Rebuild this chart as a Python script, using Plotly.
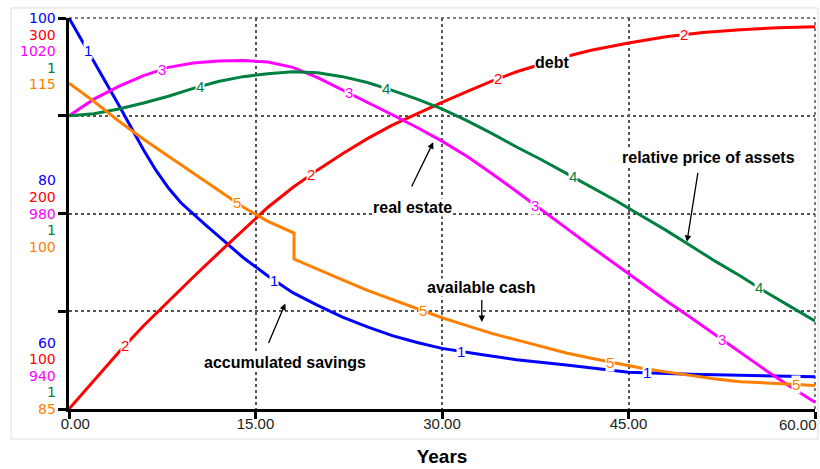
import numpy as np
import plotly.graph_objects as go

# ---- simulation output (time in years) ----
years_savings = [0, 1, 2, 3, 4, 5, 6, 7, 8, 9, 10, 11, 12, 13, 14, 16, 18, 20, 22, 24, 26,
                 28, 30, 33, 36, 40, 45, 50, 55, 60]
accumulated_savings = [100, 97.8, 95.6, 93.4, 91.1, 88.8, 86.5, 84.4, 82.6, 81.1, 79.9, 78.8,
                       77.7, 76.6, 75.5, 73.6, 71.9, 70.6, 69.4, 68.4, 67.5, 66.8, 66.2,
                       65.6, 65.05, 64.5, 63.75, 63.55, 63.4, 63.3]

years_debt = [0, 2, 4, 6, 8, 10, 12, 14, 16, 18, 20, 22, 24, 26, 28, 30, 32, 34, 36, 38,
              40, 42, 45, 48, 51, 54, 57, 60]
debt = [100, 114.8, 129, 142.6, 155.3, 167.5, 179.6, 191.5, 203.2, 213.3, 222.3, 230.6,
        238.3, 245.2, 251.2, 256.8, 262.3, 267.7, 272.5, 276.6, 280.3, 283.5, 287.2,
        290.4, 292.6, 294.0, 295.0, 295.5]

years_real_estate = list(range(0, 61, 2))
real_estate = [1000, 1003.4, 1006, 1008.2, 1009.9, 1010.8, 1011.2, 1011.3, 1011.0, 1009.9,
               1007.8, 1005.3, 1002.8, 1000.2, 997.6, 994.8, 991.7, 988.2, 984.5, 980.8,
               977.0, 973.2, 969.5, 965.8, 962.2, 958.7, 955.1, 951.5, 948.0, 944.6, 941.4]

years_price = list(range(0, 61, 2))
relative_price = [1.100, 1.102, 1.107, 1.113, 1.120, 1.128, 1.135, 1.140, 1.143, 1.145,
                  1.144, 1.140, 1.134, 1.126, 1.117, 1.107, 1.095, 1.082, 1.068, 1.055,
                  1.041, 1.027, 1.013, 0.998, 0.983, 0.967, 0.951, 0.936, 0.920, 0.905, 0.890]

years_cash = [0, 2, 4, 6, 8, 10, 12, 14, 16, 18.1, 18.1, 20, 22, 24, 26, 28, 30, 32, 34,
              36, 38, 40, 42, 44, 46, 48, 50, 52, 54, 56, 58, 60]
available_cash = [110.0, 108.6, 107.1, 105.7, 104.4, 103.1, 101.8, 100.5, 99.4, 98.5, 96.5,
                  95.7, 94.9, 94.1, 93.4, 92.7, 92.0, 91.4, 90.8, 90.3, 89.8, 89.3, 88.9,
                  88.5, 88.15, 87.85, 87.55, 87.3, 87.1, 87.0, 86.9, 86.8]

# ---- scale ticks for each variable (top, middle, bottom) ----
savings_ticks = [100, 80, 60]
debt_ticks = [300, 200, 100]
real_estate_ticks = [1020, 980, 940]
price_ticks = [1.2, 1.0, 0.8]
cash_ticks = [115, 100, 85]

time_ticks = [0, 15, 30, 45, 60]

series = [
    dict(name="accumulated savings", t=years_savings, v=accumulated_savings,
         ticks=savings_ticks, color="#0000ff"),
    dict(name="debt", t=years_debt, v=debt, ticks=debt_ticks, color="#ff0000"),
    dict(name="real estate", t=years_real_estate, v=real_estate,
         ticks=real_estate_ticks, color="#ff00ff"),
    dict(name="relative price of assets", t=years_price, v=relative_price,
         ticks=price_ticks, color="#008040"),
    dict(name="available cash", t=years_cash, v=available_cash,
         ticks=cash_ticks, color="#ff8000"),
]

TICK_FONT = "DejaVu Sans"
TEXT_FONT = "Liberation Sans, Arial, sans-serif"
LABEL_STEP = 16.6   # vertical spacing of the stacked scale labels (px)
GRID = "#555555"
TIME_FONT = dict(family=TEXT_FONT, size=15, color="#222222")

fig = go.Figure()
layout_axes = {}

for i, s in enumerate(series):
    axis_ref = "y" if i == 0 else f"y{i + 1}"
    lo, hi = min(s["ticks"]), max(s["ticks"])
    if i > 0:
        layout_axes[f"yaxis{i + 1}"] = dict(range=[lo, hi], overlaying="y", visible=False)

    fig.add_trace(go.Scatter(
        x=s["t"], y=s["v"], mode="lines", name=s["name"], yaxis=axis_ref,
        line=dict(color=s["color"], width=3), showlegend=False, hoverinfo="skip",
    ))

    # stacked scale labels on the left, one colour per variable;
    # placed by their fraction of the variable's scale
    for j, tv in enumerate(sorted(s["ticks"], reverse=True)):
        fig.add_annotation(
            x=-0.0161, xref="paper", xanchor="right", align="right",
            y=(tv - lo) / (hi - lo), yref="paper", yanchor="middle",
            yshift=(2 * j - i) * LABEL_STEP,
            text=f"{tv:.0f}", showarrow=False, borderpad=0,
            font=dict(family=TICK_FONT, size=14, color=s["color"]),
        )

    # curve numbers drawn along each line
    t_arr = np.asarray(s["t"], dtype=float)
    v_arr = np.asarray(s["v"], dtype=float)
    for k in range(4):
        tl = 1.5 + 3 * i + 15 * k
        fig.add_annotation(
            x=tl, xref="x", y=float(np.interp(tl, t_arr, v_arr)), yref=axis_ref,
            text=str(i + 1), showarrow=False, bgcolor="white", borderpad=0,
            font=dict(family=TEXT_FONT, size=15, color=s["color"]),
        )

# ---- callout names with arrows (positions on the time / savings scale) ----
callouts = [
    dict(text="debt", x=38.85, y=95.4, tip=None),
    dict(text="real estate", x=27.6, y=80.6, tip=((27.5, 82.6), (29.3, 87.3))),
    dict(text="relative price of assets", x=51.4, y=85.7, tip=((50.6, 84.3), (49.7, 77.1))),
    dict(text="available cash", x=33.2, y=72.4, tip=((33.2, 71.3), (33.2, 68.9))),
    dict(text="accumulated savings", x=17.4, y=64.8, tip=((16.0, 66.6), (17.4, 70.8))),
]
for c in callouts:
    fig.add_annotation(
        x=c["x"], y=c["y"], xref="x", yref="y", text=c["text"], showarrow=False,
        bgcolor="white", borderpad=0,
        font=dict(family=TEXT_FONT, size=16, color="black", weight="bold"),
    )
    if c["tip"] is not None:
        (tx, ty), (hx, hy) = c["tip"]
        fig.add_annotation(
            x=hx, y=hy, xref="x", yref="y", ax=tx, ay=ty, axref="x", ayref="y",
            text="", showarrow=True, arrowhead=2, arrowsize=1, arrowwidth=1.3,
            arrowcolor="black",
        )

# dotted top and right borders of the plotting area
fig.add_shape(type="line", xref="paper", yref="paper", x0=0, x1=1, y0=1, y1=1,
              line=dict(color=GRID, width=1.5, dash="dot"), layer="below")
fig.add_shape(type="line", xref="paper", yref="paper", x0=1, x1=1, y0=0, y1=1,
              line=dict(color=GRID, width=1.5, dash="dot"), layer="below")

# light outer frame
fig.add_shape(type="rect", xref="paper", yref="paper",
              x0=-0.0777, x1=1.004, y0=-0.0767, y1=1.0256,
              line=dict(color="#dcdcdc", width=1), fillcolor="rgba(0,0,0,0)", layer="below")

# time labels: the first is nudged right of its tick, the last one is
# right-aligned on its tick so it stays inside the frame
time_text = [f"{v:.2f}" for v in time_ticks]
time_text[0] = "\u00a0\u00a0\u00a0" + time_text[0]
last_time_label = time_text[-1]
time_text[-1] = ""
fig.add_annotation(
    x=time_ticks[-1], xref="x", xanchor="right", xshift=3,
    y=0, yref="paper", yanchor="middle", yshift=-15,
    text=last_time_label, showarrow=False, borderpad=0, font=TIME_FONT,
)

fig.update_layout(
    width=820, height=469,
    margin=dict(l=69, r=5, t=18, b=60, autoexpand=False),
    paper_bgcolor="white", plot_bgcolor="white",
    showlegend=False,
    xaxis=dict(
        range=[0, 60], tickvals=time_ticks, ticktext=time_text,
        showline=True, linecolor="black", linewidth=3,
        ticks="outside", ticklen=7, tickwidth=3, tickcolor="black",
        ticklabelstandoff=-8, automargin=False,
        showgrid=True, gridcolor=GRID, gridwidth=1.5, griddash="dot",
        zeroline=False,
        tickfont=TIME_FONT,
        title=dict(text="Years", standoff=19,
                   font=dict(family=TEXT_FONT, size=19, color="black", weight="bold")),
    ),
    yaxis=dict(
        range=[min(savings_ticks), max(savings_ticks)],
        tickvals=list(np.linspace(min(savings_ticks), max(savings_ticks), 5)),
        showticklabels=False,
        showline=True, linecolor="black", linewidth=3,
        ticks="outside", ticklen=8, tickwidth=3, tickcolor="black",
        showgrid=True, gridcolor=GRID, gridwidth=1.5, griddash="dot",
        zeroline=False, automargin=False,
    ),
    **layout_axes,
)

fig.write_html("out.html")
